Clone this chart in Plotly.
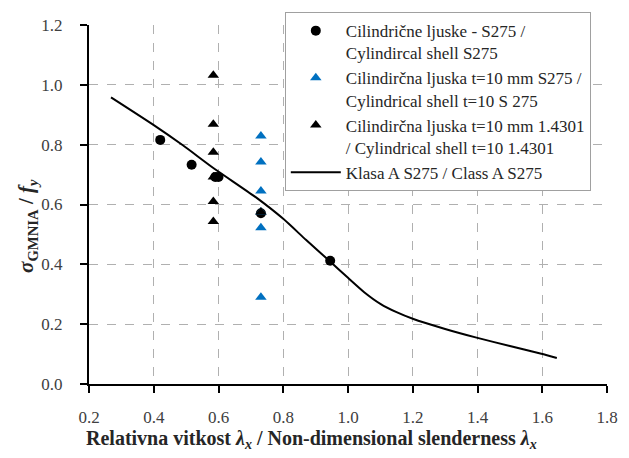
import plotly.graph_objects as go

# Data
circ_x = [0.42, 0.517, 0.59, 0.60, 0.731, 0.945]
circ_y = [0.816, 0.733, 0.692, 0.692, 0.571, 0.412]

blue_x = [0.731, 0.731, 0.731, 0.731, 0.731, 0.731]
blue_y = [0.829, 0.742, 0.645, 0.575, 0.522, 0.29]

blk_x = [0.584, 0.584, 0.584, 0.584, 0.584, 0.584, 0.731]
blk_y = [1.032, 0.868, 0.775, 0.692, 0.610, 0.543, 0.575]

line_x = [0.268, 0.399, 0.491, 0.584, 0.718, 0.80, 0.87, 0.944, 1.0, 1.05, 1.10, 1.15, 1.2, 1.3, 1.397, 1.5, 1.597, 1.645]
line_y = [0.958, 0.866, 0.797, 0.722, 0.622, 0.552, 0.482, 0.41, 0.355, 0.307, 0.268, 0.240, 0.218, 0.184, 0.155, 0.127, 0.101, 0.087]

names = [
    "Cilindrične ljuske - S275 /<br>Cylindircal shell S275",
    "Cilindirčna ljuska t=10 mm S275 /<br>Cylindrical shell t=10 S 275",
    "Cilindirčna ljuska t=10 mm 1.4301<br>/ Cylindrical shell t=10 1.4301",
    "Klasa A S275 / Class A S275",
]

x_title = "<b>Relativna vitkost <i>λ<sub>x</sub></i> / Non-dimensional slenderness <i>λ<sub>x</sub></i></b>"
y_title = "<b><i>σ</i><sub>GMNIA</sub> / <i>f<sub>y</sub></i></b>"

FONT = "Liberation Serif"

fig = go.Figure()
fig.add_trace(go.Scatter(x=circ_x, y=circ_y, mode="markers", name=names[0],
                         marker=dict(symbol="circle", size=10, color="black")))
fig.add_trace(go.Scatter(x=blue_x, y=blue_y, mode="markers", name=names[1],
                         marker=dict(symbol="triangle-up", size=10, color="#0070C0")))
fig.add_trace(go.Scatter(x=blk_x, y=blk_y, mode="markers", name=names[2],
                         marker=dict(symbol="triangle-up", size=10, color="black")))
fig.add_trace(go.Scatter(x=line_x, y=line_y, mode="lines", name=names[3],
                         line=dict(color="black", width=2, shape="spline", smoothing=0.6)))

fig.update_layout(
    width=629, height=458,
    margin=dict(l=89, r=22, t=23, b=74),
    paper_bgcolor="white", plot_bgcolor="white",
    font=dict(family=FONT, size=17, color="#404040"),
    showlegend=True,
    legend=dict(
        traceorder="normal",
        x=0.378, y=1.036, xanchor="left", yanchor="top",
        bgcolor="white", bordercolor="#a0a0a0", borderwidth=1,
        font=dict(family=FONT, size=17, color="#262626"),
        valign="top", tracegroupgap=0, itemwidth=50,
    ),
    xaxis=dict(
        range=[0.2, 1.8], dtick=0.2, tick0=0.2, tickformat=".1f",
        showgrid=True, gridcolor="#b0b0b0", griddash="dash", gridwidth=1,
        showline=True, linecolor="black", linewidth=2,
        ticks="outside", ticklen=7, tickwidth=2, tickcolor="black",
        ticklabelstandoff=10,
        zeroline=False, mirror=False,
    ),
    yaxis=dict(
        range=[0, 1.2], dtick=0.2, tickformat=".1f",
        showgrid=True, gridcolor="#b0b0b0", griddash="dash", gridwidth=1,
        showline=True, linecolor="black", linewidth=2,
        ticks="outside", ticklen=7, tickwidth=2, tickcolor="black",
        ticklabelstandoff=14,
        zeroline=False,
    ),
    annotations=[
        dict(text=x_title, xref="paper", yref="paper", x=(311 - 89) / 518, y=(384 - 440) / 361,
             xanchor="center", yanchor="middle", showarrow=False,
             font=dict(family=FONT, size=20, color="#262626")),
        dict(text=y_title, xref="paper", yref="paper", x=(27 - 89) / 518, y=(384 - 225) / 361,
             xanchor="center", yanchor="middle", showarrow=False, textangle=-90,
             font=dict(family=FONT, size=21, color="#262626")),
    ],
)

fig.write_html("out.html")
